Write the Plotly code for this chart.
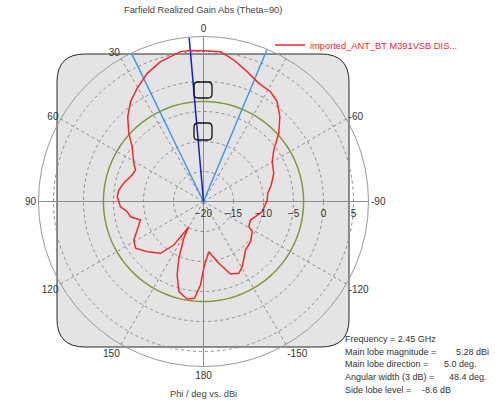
"""CST farfield cut: realized gain (Theta=90) vs Phi, polar view."""
import plotly.graph_objects as go

W, H = 495, 404

# red curve: phi in deg, gain in dBi
phi = [
    -179.1, -174.0, -166.1, -159.6, -153.8, -149.3, -139.1, -130.5, -121.8,
    -119.1, -111.5, -99.9, -88.7, -82.7, -76.3, -68.1, -59.9, -53.8, -47.8,
    -42.0, -36.4, -31.4, -25.1, -18.6, -12.1, -6.5, 0.0, 5.0, 8.7, 17.1, 23.7,
    30.4, 36.2, 41.8, 47.6, 52.5, 61.3, 65.1, 69.6, 76.9, 82.3, 86.8, 93.6,
    97.6, 101.8, 106.4, 112.2, 118.9, 124.5, 131.7, 140.3, 145.7, 147.5,
    149.7, 151.8, 156.5, 160.3, 164.7, 170.5, 174.7, 177.9,
]
gain = [
    -9.42, -11.58, -9.38, -7.10, -6.67, -7.37, -9.30, -9.70, -10.45,
    -11.36, -11.58, -10.07, -9.38, -9.20, -8.38, -7.38, -6.77, -5.48, -3.07,
    -0.98, 0.68, 1.43, 1.75, 2.83, 4.12, 5.13, 5.13, 5.28, 5.27, 4.38, 3.33,
    1.87, 0.60, -1.05, -3.13, -5.02, -6.75, -7.52, -7.32, -6.37, -5.75, -5.60, -6.13,
    -7.17, -7.57, -9.05, -8.17, -6.73, -6.25, -7.43, -8.78, -11.22, -13.38,
    -15.13, -13.05, -9.68, -6.98, -4.42, -3.52, -3.80, -6.07,
]

main_lobe_mag = 5.28
main_lobe_dir = 5.0
side_lobe_level = -8.6
beam_edges = [25.9, -22.7]   # 3 dB points

r_min, r_max = -20, 7.5
radial_ticks = [-20, -15, -10, -5, 0, 5]
angle_ticks = list(range(0, 360, 30))
# the -30 label sits under the legend in the original, so it stays blank
angle_labels = ["0", "30", "60", "90", "120", "150", "180",
                "-150", "-120", "-90", "-60", ""]

info_labels = ["Frequency = 2.45 GHz", "Main lobe magnitude =", "Main lobe direction =",
               "Angular width (3 dB) =", "Side lobe level ="]
info_values = ["", "5.28 dBi", "5.0 deg.", "48.4 deg.", "-8.6 dB"]


def px(x):
    return x / W


def py(y):
    return 1 - y / H


def rounded_box(x0, y0, x1, y1, rad):
    # rounded rectangle in paper units, sizes given in pixels
    return (
        f"M {px(x0 + rad)},{py(y0)} L {px(x1 - rad)},{py(y0)} "
        f"Q {px(x1)},{py(y0)} {px(x1)},{py(y0 + rad)} "
        f"L {px(x1)},{py(y1 - rad)} Q {px(x1)},{py(y1)} {px(x1 - rad)},{py(y1)} "
        f"L {px(x0 + rad)},{py(y1)} Q {px(x0)},{py(y1)} {px(x0)},{py(y1 - rad)} "
        f"L {px(x0)},{py(y0 + rad)} Q {px(x0)},{py(y0)} {px(x0 + rad)},{py(y0)} Z"
    )


FONT = "Liberation Sans"
fig = go.Figure()

# solid cross through the centre
for a in (0, 90):
    fig.add_trace(go.Scatterpolar(
        r=[r_max, r_min, r_max], theta=[a, a, a + 180], mode="lines",
        line={"color": "#8c8c8c", "width": 1}, showlegend=False, hoverinfo="skip",
    ))

# side lobe level circle
circle_theta = list(range(0, 362, 2))
fig.add_trace(go.Scatterpolar(
    r=[main_lobe_mag + side_lobe_level] * len(circle_theta), theta=circle_theta,
    mode="lines", line={"color": "#7f9a3a", "width": 1.5},
    showlegend=False, hoverinfo="skip",
))

# beam width lines
for a in beam_edges:
    fig.add_trace(go.Scatterpolar(
        r=[r_min, r_max], theta=[a, a], mode="lines",
        line={"color": "#3d9be9", "width": 1.5}, showlegend=False, hoverinfo="skip",
    ))
fig.add_trace(go.Scatterpolar(
    r=[r_min, r_max], theta=[main_lobe_dir, main_lobe_dir], mode="lines",
    line={"color": "#1a1ad6", "width": 1.5}, showlegend=False, hoverinfo="skip",
))

fig.add_trace(go.Scatterpolar(
    r=gain + gain[:1], theta=phi + phi[:1], mode="lines",
    name="imported_ANT_BT M391VSB DIS...",
    line={"color": "#ff2626", "width": 1.5},
))

shapes = [
    dict(type="path", path=rounded_box(57, 54, 349, 347, 28), xref="paper", yref="paper",
         fillcolor="#e4e4e4", line={"color": "#262626", "width": 1}, layer="below"),
    dict(type="path", path=rounded_box(194, 82, 212, 98, 4), xref="paper", yref="paper",
         line={"color": "#111", "width": 1.3}),
    dict(type="path", path=rounded_box(194, 123, 212, 140, 4), xref="paper", yref="paper",
         line={"color": "#111", "width": 1.3}),
]

annotations = [
    dict(text="Farfield Realized Gain Abs (Theta=90)", x=px(203), y=py(10),
         font={"size": 9.3, "color": "#444"}),
    dict(text="Phi / deg vs. dBi", x=px(203), y=py(394),
         font={"size": 9.3, "color": "#444"}),
]
for i, lab in enumerate(info_labels):
    annotations.append(dict(text=lab, x=px(343), y=py(339 + 12.7 * i), xanchor="left",
                            font={"size": 9, "color": "#333"}))
value_x = [0, 454, 442, 447, 420]
for i, val in enumerate(info_values):
    if val:
        annotations.append(dict(text=val, x=px(value_x[i]), y=py(339 + 12.7 * i),
                                xanchor="left", font={"size": 9, "color": "#333"}))
for a in annotations:
    a.update(xref="paper", yref="paper", showarrow=False, yanchor="middle")

fig.update_layout(
    width=W, height=H,
    margin={"l": 0, "r": 0, "t": 0, "b": 0},
    paper_bgcolor="white",
    font={"family": FONT, "color": "#333"},
    polar={
        "domain": {"x": [px(38.5), px(368.5)], "y": [py(366.5), py(36.5)]},
        "bgcolor": "rgba(0,0,0,0)",
        "angularaxis": {
            "rotation": 90, "direction": "counterclockwise",
            "tickvals": angle_ticks, "ticktext": angle_labels, "ticks": "",
            "showline": True, "linecolor": "#999", "linewidth": 1,
            "gridcolor": "#8a8a8a", "griddash": "dot", "gridwidth": 1,
            "tickfont": {"size": 10, "color": "#333"},
        },
        "radialaxis": {
            "range": [r_min, r_max], "tickvals": radial_ticks, "angle": 0,
            "showline": False, "side": "clockwise",
            "ticks": "outside", "ticklen": 3, "tickcolor": "rgba(0,0,0,0)",
            "gridcolor": "#8a8a8a", "griddash": "dot", "gridwidth": 1,
            "tickfont": {"size": 10, "color": "#333"},
        },
    },
    showlegend=True,
    legend={"x": px(270), "y": py(45), "xanchor": "left", "yanchor": "middle",
            "bgcolor": "rgba(0,0,0,0)", "font": {"size": 9.3, "color": "#ff2626"},
            "itemwidth": 30, "borderwidth": 0},
    shapes=shapes,
    annotations=annotations,
)

# the page body has a default 8px margin; drop it so the chart sits at 0,0
fig.write_html("out.html", config={"displayModeBar": False},
               post_script="document.body.style.margin='0';")
